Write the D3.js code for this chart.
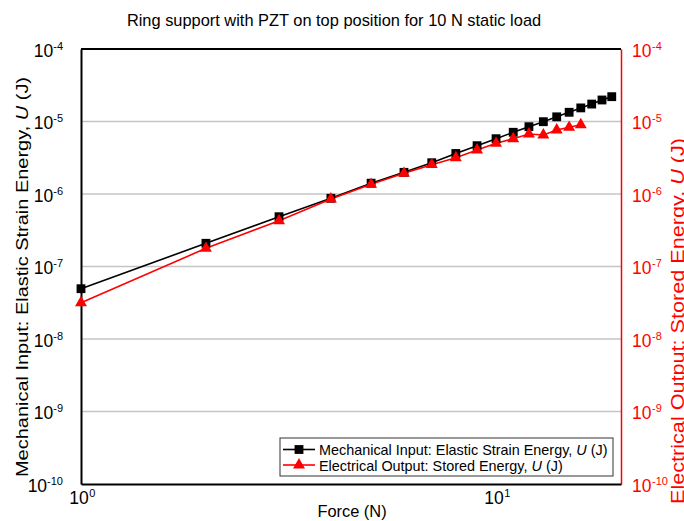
<!DOCTYPE html>
<html>
<head>
<meta charset="utf-8">
<script src="https://cdn.jsdelivr.net/npm/d3@7"></script>
<style>
  body { margin: 0; background: #fff; }
  svg { display: block; font-family: "Liberation Sans", Arial, sans-serif; }
</style>
</head>
<body>
<svg id="chart" width="684" height="521"></svg>
<script>
// Applied force (N) and energies (J)
const mechanicalForce = [1, 2, 3, 4, 5, 6, 7, 8, 9, 10, 11, 12, 13, 14, 15, 16, 17, 18, 19];
const mechanicalEnergy = [4.94e-8, 2.09e-7, 4.86e-7, 8.73e-7, 1.41e-6, 1.99e-6, 2.70e-6, 3.62e-6,
  4.64e-6, 5.79e-6, 7.10e-6, 8.48e-6, 9.94e-6, 1.16e-5, 1.34e-5, 1.54e-5, 1.74e-5, 1.98e-5, 2.20e-5];
const electricalForce = [1, 2, 3, 4, 5, 6, 7, 8, 9, 10, 11, 12, 13, 14, 15, 16];
const electricalEnergy = [3.17e-8, 1.78e-7, 4.28e-7, 8.53e-7, 1.36e-6, 1.93e-6, 2.54e-6, 3.17e-6,
  4.05e-6, 5.00e-6, 5.79e-6, 6.73e-6, 6.51e-6, 7.63e-6, 8.32e-6, 9.04e-6];
const xTickExponents = [0, 1];
const yTickExponents = [-4, -5, -6, -7, -8, -9, -10];

const chartTitle = "Ring support with PZT on top position for 10 N static load";
const xTitle = "Force (N)";
const leftTitle = ["Mechanical Input: Elastic Strain Energy, ", "U", " (J)"];
const rightTitle = ["Electrical Output: Stored Energy, ", "U", " (J)"];
const legendLabels = [
  ["Mechanical Input: Elastic Strain Energy, ", "U", " (J)"],
  ["Electrical Output: Stored Energy, ", "U", " (J)"]
];

const FONT = "Liberation Sans, Arial, sans-serif";
const BASE_SIZE = 17.5, EXP_SIZE = 11;

const svg = d3.select("#chart");
const frame = { left: 81, right: 621, top: 49, bottom: 484 };

const x = d3.scaleLog().domain([1, 20]).range([frame.left, frame.right]);
const y = d3.scaleLog().domain([1e-10, 1e-4]).range([frame.bottom, frame.top]);
const yTickVals = yTickExponents.map(e => Math.pow(10, e));
const xTickVals = xTickExponents.map(e => Math.pow(10, e));

// horizontal grid at each inner decade
svg.append("g").selectAll("line")
  .data(yTickVals.slice(1, -1))
  .join("line")
  .attr("x1", frame.left).attr("x2", frame.right)
  .attr("y1", d => y(d)).attr("y2", d => y(d))
  .attr("stroke", "#c4c4c4").attr("stroke-width", 1.5);

// "10" base from the axis, exponent added beside it
function exponentOf(d) { return String(Math.round(Math.log10(d))); }

// left axis
const yLeft = svg.append("g").attr("transform", `translate(${frame.left},0)`)
  .call(d3.axisLeft(y).tickValues(yTickVals).tickSize(0).tickFormat(() => "10"));
yLeft.select(".domain").attr("stroke", "#000").attr("stroke-width", 2);
yLeft.selectAll(".tick").each(function(d) {
  const g = d3.select(this);
  const exp = g.append("text").attr("font-family", FONT).attr("font-size", EXP_SIZE)
    .attr("fill", "#000").attr("text-anchor", "end").attr("x", -18).attr("y", 0).attr("dy", 0)
    .text(exponentOf(d));
  const w = exp.node().getComputedTextLength();
  g.select("text:first-of-type").attr("font-family", FONT).attr("font-size", BASE_SIZE)
    .attr("fill", "#000").attr("text-anchor", "end").attr("x", -18 - w).attr("y", 7).attr("dy", 0);
});

// right axis (red)
const yRight = svg.append("g").attr("transform", `translate(${frame.right},0)`)
  .call(d3.axisRight(y).tickValues(yTickVals).tickSize(0).tickFormat(() => "10"));
yRight.select(".domain").attr("stroke", "#ff0000").attr("stroke-width", 1.5);
yRight.selectAll(".tick").each(function(d) {
  const g = d3.select(this);
  const base = g.select("text").attr("font-family", FONT).attr("font-size", BASE_SIZE)
    .attr("fill", "#ff0000").attr("text-anchor", "start").attr("x", 11).attr("y", 7).attr("dy", 0);
  const w = base.node().getComputedTextLength();
  g.append("text").attr("font-family", FONT).attr("font-size", EXP_SIZE)
    .attr("fill", "#ff0000").attr("text-anchor", "start").attr("x", 11 + w + 0.5).attr("y", 0)
    .text(exponentOf(d));
});

// bottom axis
const xAxis = svg.append("g").attr("transform", `translate(0,${frame.bottom})`)
  .call(d3.axisBottom(x).tickValues(xTickVals).tickSize(0).tickFormat(() => "10"));
xAxis.select(".domain").attr("stroke", "#000").attr("stroke-width", 2);
xAxis.selectAll(".tick").each(function(d) {
  const g = d3.select(this);
  const base = g.select("text").attr("font-family", FONT).attr("font-size", BASE_SIZE)
    .attr("fill", "#000").attr("text-anchor", "middle").attr("x", -2.5).attr("y", 20).attr("dy", 0);
  const w = base.node().getComputedTextLength();
  g.append("text").attr("font-family", FONT).attr("font-size", EXP_SIZE)
    .attr("fill", "#000").attr("text-anchor", "start").attr("x", -2.5 + w / 2 + 0.5).attr("y", 13)
    .text(exponentOf(d));
});

// top frame line
svg.append("line")
  .attr("x1", frame.left).attr("x2", frame.right)
  .attr("y1", frame.top).attr("y2", frame.top)
  .attr("stroke", "#000").attr("stroke-width", 2);

// titles
svg.append("text").attr("x", 334).attr("y", 26).attr("text-anchor", "middle")
  .attr("font-size", 16.4).attr("fill", "#000").text(chartTitle);
svg.append("text").attr("x", 352).attr("y", 517).attr("text-anchor", "middle")
  .attr("font-size", 16.4).attr("fill", "#000").text(xTitle);

// vertical axis titles, stretched along their length
function rotatedTitle(parts, bx, cy, size, span, color) {
  const t = svg.append("text")
    .attr("transform", `translate(${bx},${cy}) rotate(-90)`)
    .attr("text-anchor", "middle").attr("font-size", size).attr("fill", color)
    .attr("textLength", span).attr("lengthAdjust", "spacingAndGlyphs");
  t.append("tspan").text(parts[0]);
  t.append("tspan").attr("font-style", "italic").text(parts[1]);
  t.append("tspan").text(parts[2]);
}
rotatedTitle(leftTitle, 28, 277, 17, 400, "#000");
rotatedTitle(rightTitle, 684, 321, 17.5, 366, "#ff0000");

// series
const plot = svg.append("g");
const line = d3.line().x(d => x(d[0])).y(d => y(d[1]));
const mechPts = mechanicalForce.map((f, i) => [f, mechanicalEnergy[i]]);
const elecPts = electricalForce.map((f, i) => [f, electricalEnergy[i]]);

plot.append("path").datum(mechPts).attr("d", line)
  .attr("fill", "none").attr("stroke", "#000").attr("stroke-width", 1.6);
plot.append("path").datum(elecPts).attr("d", line)
  .attr("fill", "none").attr("stroke", "#ff0000").attr("stroke-width", 1.6);

const sq = d3.symbol().type(d3.symbolSquare).size(78);
const tri = d3.symbol().type(d3.symbolTriangle).size(62);

plot.append("g").selectAll("path").data(mechPts).join("path")
  .attr("d", sq).attr("transform", d => `translate(${x(d[0])},${y(d[1])})`).attr("fill", "#000");
plot.append("g").selectAll("path").data(elecPts).join("path")
  .attr("d", tri).attr("transform", d => `translate(${x(d[0])},${y(d[1])})`).attr("fill", "#ff0000");

// legend
const lg = svg.append("g").attr("transform", "translate(280,438)");
lg.append("rect").attr("width", 333).attr("height", 38)
  .attr("fill", "#fff").attr("stroke", "#333").attr("stroke-width", 1);
const legendStyles = [
  { color: "#000", sym: sq },
  { color: "#ff0000", sym: tri }
];
legendLabels.forEach((label, i) => {
  const st = legendStyles[i];
  const cy = 11.5 + i * 15.5;
  lg.append("line").attr("x1", 3).attr("x2", 35).attr("y1", cy).attr("y2", cy)
    .attr("stroke", st.color).attr("stroke-width", 1.6);
  lg.append("path").attr("d", st.sym).attr("transform", `translate(19,${cy})`).attr("fill", st.color);
  const t = lg.append("text").attr("x", 39).attr("y", cy + 5.5).attr("font-size", 14.4).attr("fill", "#000");
  t.append("tspan").text(label[0]);
  t.append("tspan").attr("font-style", "italic").text(label[1]);
  t.append("tspan").text(label[2]);
});
</script>
</body>
</html>
